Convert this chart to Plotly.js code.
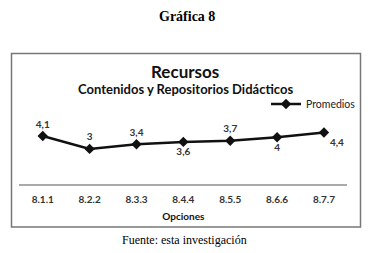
<!DOCTYPE html>
<html>
<head>
<meta charset="utf-8">
<script src="https://cdn.plot.ly/plotly-3.0.1.min.js"></script>
<style>html,body{margin:0;padding:0;background:#fff;}#chart{width:370px;height:253px;}</style>
</head>
<body>
<div id="chart"></div>
<script>
var categories = ['8.1.1','8.2.2','8.3.3','8.4.4','8.5.5','8.6.6','8.7.7'];
var promedios = [4.1, 3, 3.4, 3.6, 3.7, 4, 4.4];
var valueLabels = ['4,1','3','3,4','3,6','3,7','4','4,4'];
var labelPositions = ['top center','top center','top center','bottom center','top center','bottom center','bottom right'];

var W = 370, H = 253;
function px(x){return x/W;}
function py(y){return (H-y)/H;}

var chartFont = 'Lato, "Open Sans", sans-serif';

var trace = {
  x: categories,
  y: promedios,
  type: 'scatter',
  mode: 'lines+markers+text',
  name: 'Promedios',
  line: {color: '#111', width: 2.5},
  marker: {symbol: 'diamond', size: 8, color: '#111'},
  text: valueLabels,
  textposition: labelPositions,
  textfont: {family: chartFont, size: 10, color: '#333', weight: 'bold'},
  cliponaxis: false
};

var layout = {
  width: W, height: H,
  margin: {l:0, r:0, t:0, b:0},
  paper_bgcolor: '#fff',
  plot_bgcolor: 'rgba(0,0,0,0)',
  showlegend: true,
  legend: {
    x: px(266), y: py(104), xanchor: 'left', yanchor: 'middle',
    font: {family: chartFont, size: 10.5, color: '#222'},
    bgcolor: 'rgba(0,0,0,0)', itemwidth: 30, tracegroupgap: 0
  },
  xaxis: {
    type: 'category',
    domain: [px(19.3), px(347.4)],
    range: [-0.5, 6.5],
    showgrid: false, zeroline: false,
    showline: true, linecolor: '#aaa', linewidth: 1.5,
    ticks: '',
    ticklabelstandoff: 5,
    tickfont: {family: chartFont, size: 10, color: '#333', weight: 'bold'},
    title: {text: 'Opciones', font: {family: chartFont, size: 10, color: '#111', weight: 'bold'}, standoff: 9},
    fixedrange: true
  },
  yaxis: {
    domain: [py(184), py(184 - 6*11.7)],
    range: [0, 6],
    visible: false,
    fixedrange: true
  },
  shapes: [{
    type: 'rect', xref: 'paper', yref: 'paper',
    x0: px(11.5), x1: px(360.5), y0: py(227), y1: py(53.5),
    line: {color: '#777', width: 1.5}, fillcolor: 'rgba(0,0,0,0)'
  }],
  annotations: [
    {text: '<b>Gráfica 8</b>', xref: 'paper', yref: 'paper', x: px(187), y: py(17), showarrow: false, yanchor: 'middle',
     font: {family: '"Liberation Serif", serif', size: 14, color: '#000'}},
    {text: '<b>Recursos</b>', xref: 'paper', yref: 'paper', x: px(185), y: py(71), showarrow: false, yanchor: 'middle',
     font: {family: chartFont, size: 17, color: '#111'}},
    {text: '<b>Contenidos y Repositorios Didácticos</b>', xref: 'paper', yref: 'paper', x: px(185), y: py(89), showarrow: false, yanchor: 'middle',
     font: {family: chartFont, size: 13, color: '#111'}},
    {text: 'Fuente: esta investigación', xref: 'paper', yref: 'paper', x: px(184), y: py(240), showarrow: false, yanchor: 'middle',
     font: {family: '"Liberation Serif", serif', size: 12, color: '#000'}}
  ]
};

Plotly.newPlot('chart', [trace], layout, {displayModeBar: false, staticPlot: true});
</script>
</body>
</html>
